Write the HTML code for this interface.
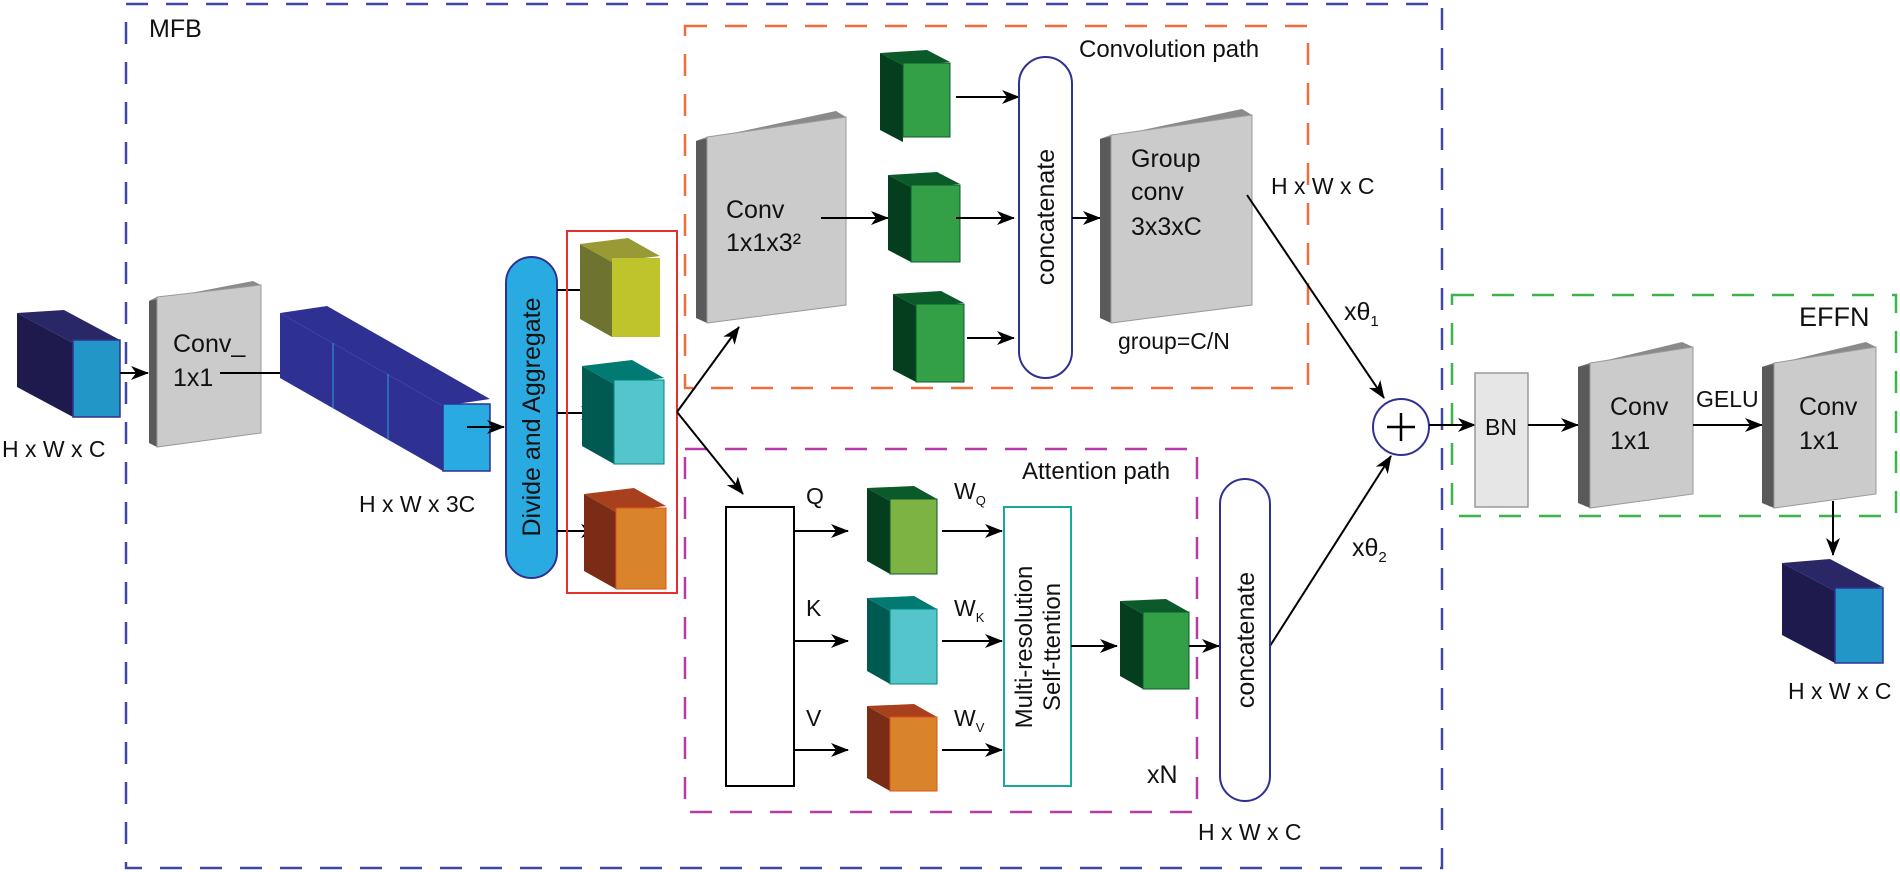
<!DOCTYPE html>
<html><head><meta charset="utf-8"><style>
html,body{margin:0;padding:0;background:#fff;}
svg{display:block;}
text{font-family:"Liberation Sans",sans-serif;fill:#111;}
</style></head><body>
<svg width="1900" height="872" viewBox="0 0 1900 872" xmlns="http://www.w3.org/2000/svg">
<defs>
<marker id="ah" viewBox="0 0 18 14" refX="17" refY="7" markerWidth="18" markerHeight="14" markerUnits="userSpaceOnUse" orient="auto">
<path d="M0,0 L18,7 L0,14 L5,7 Z" fill="#000"/>
</marker>
</defs>

<rect x="126" y="4" width="1316" height="864" fill="none" stroke="#3f48a8" stroke-width="2.5" stroke-dasharray="22,18"/>
<text x="149" y="37" font-size="25">MFB</text>
<rect x="685" y="26" width="623" height="362" fill="none" stroke="#f26b3a" stroke-width="2.5" stroke-dasharray="22,18"/>
<text x="1079" y="57" font-size="24">Convolution path</text>
<rect x="685" y="449" width="512" height="363" fill="none" stroke="#b63ba6" stroke-width="2.5" stroke-dasharray="22,18"/>
<text x="1022" y="479" font-size="24">Attention path</text>
<rect x="1452" y="295" width="444" height="221" fill="none" stroke="#3bb54a" stroke-width="2.5" stroke-dasharray="22,18"/>
<text x="1799" y="326" font-size="27">EFFN</text>

<polygon points="73,343 17,313 17,387 73,417" fill="#1e1a4e"/>
<polygon points="73,343 17,313 64,310 120,340" fill="#2a2766"/>
<rect x="73" y="340" width="47" height="77" fill="#2396c8" stroke="#2e3192" stroke-width="1.5"/>
<text x="2" y="457" font-size="23">H x W x C</text>
<line x1="120" y1="373" x2="148" y2="373" stroke="#000" stroke-width="2" marker-end="url(#ah)"/>

<polygon points="149,301 157,297 157,447 149,443" fill="#5a5a5a"/>
<polygon points="149,301 253,281 261,285 157,297" fill="#8a8a8a"/>
<polygon points="157,297 261,285 261,433 157,447" fill="#cbcbcb" stroke="#999" stroke-width="1"/>
<text x="173" y="352" font-size="25">Conv_</text>
<text x="173" y="386" font-size="25">1x1</text>
<line x1="220" y1="373" x2="331" y2="373" stroke="#000" stroke-width="2" marker-end="url(#ah)"/>

<polygon points="443,406 280,313 280,378 443,471" fill="#2e3192"/>
<polygon points="443,406 280,313 327,306 490,399" fill="#2e3192"/>
<line x1="333" y1="343" x2="333" y2="408" stroke="#2aa0d8" stroke-width="1"/>
<line x1="388" y1="374" x2="388" y2="440" stroke="#2aa0d8" stroke-width="1"/>
<rect x="443" y="404" width="47" height="67" fill="#29abe2" stroke="#2e3192" stroke-width="1.5"/>
<text x="359" y="512" font-size="23">H x W x 3C</text>
<line x1="467" y1="427" x2="504" y2="427" stroke="#000" stroke-width="2" marker-end="url(#ah)"/>

<rect x="506" y="257" width="51" height="321" rx="25.5" fill="#29abe2" stroke="#2e3192" stroke-width="2"/>
<text transform="translate(540,417) rotate(-90)" text-anchor="middle" font-size="25">Divide and Aggregate</text>
<line x1="557" y1="290" x2="598" y2="290" stroke="#000" stroke-width="2" marker-end="url(#ah)"/>
<line x1="557" y1="413" x2="598" y2="413" stroke="#000" stroke-width="2" marker-end="url(#ah)"/>
<line x1="557" y1="531" x2="598" y2="531" stroke="#000" stroke-width="2" marker-end="url(#ah)"/>

<rect x="567" y="231" width="110" height="362" fill="none" stroke="#e8302a" stroke-width="2"/>
<polygon points="612,262 580,244 580,319 612,337" fill="#6e7330"/>
<polygon points="612,262 580,244 628,238 660,256" fill="#999a35"/>
<rect x="612" y="258" width="48" height="79" fill="#bfc42d"/>
<polygon points="614,384 582,366 582,446 614,464" fill="#005a52"/>
<polygon points="614,384 582,366 632,360 664,378" fill="#007a72"/>
<rect x="614" y="380" width="50" height="84" fill="#55c5cc" stroke="#00857d" stroke-width="1"/>
<polygon points="616,512 584,494 584,571 616,589" fill="#7a2c16"/>
<polygon points="616,512 584,494 634,488 666,506" fill="#a8401e"/>
<rect x="616" y="508" width="50" height="81" fill="#d9832a" stroke="#e0501e" stroke-width="1"/>

<line x1="677" y1="412" x2="739" y2="327" stroke="#000" stroke-width="2" marker-end="url(#ah)"/>
<line x1="677" y1="412" x2="743" y2="494" stroke="#000" stroke-width="2" marker-end="url(#ah)"/>

<polygon points="696,141 707,137 707,323 696,318" fill="#5a5a5a"/>
<polygon points="696,141 836,111 846,117 707,137" fill="#8a8a8a"/>
<polygon points="707,137 846,117 846,305 707,323" fill="#cbcbcb" stroke="#999" stroke-width="1"/>
<text x="726" y="218" font-size="25">Conv</text>
<text x="726" y="251" font-size="25">1x1x3²</text>
<line x1="821" y1="218" x2="888" y2="218" stroke="#000" stroke-width="2" marker-end="url(#ah)"/>

<polygon points="903,65 880,53 880,130 903,142" fill="#053d1f"/>
<polygon points="903,65 880,53 927,50 950,62" fill="#0b5a2a"/>
<rect x="903" y="63" width="47" height="74" fill="#33a047" stroke="#0b5a2a" stroke-width="1"/>
<polygon points="911,187 888,175 888,250 911,262" fill="#053d1f"/>
<polygon points="911,187 888,175 937,172 960,184" fill="#0b5a2a"/>
<rect x="911" y="185" width="49" height="77" fill="#33a047" stroke="#0b5a2a" stroke-width="1"/>
<polygon points="916,306 893,294 893,370 916,382" fill="#053d1f"/>
<polygon points="916,306 893,294 941,291 964,303" fill="#0b5a2a"/>
<rect x="916" y="304" width="48" height="78" fill="#33a047" stroke="#0b5a2a" stroke-width="1"/>
<line x1="956" y1="97" x2="1019" y2="97" stroke="#000" stroke-width="2" marker-end="url(#ah)"/>
<line x1="956" y1="218" x2="1014" y2="218" stroke="#000" stroke-width="2" marker-end="url(#ah)"/>
<line x1="967" y1="338" x2="1014" y2="338" stroke="#000" stroke-width="2" marker-end="url(#ah)"/>

<rect x="1019" y="57" width="53" height="321" rx="26.5" fill="#fff" stroke="#2e3192" stroke-width="2"/>
<text transform="translate(1054,217) rotate(-90)" text-anchor="middle" font-size="25">concatenate</text>
<line x1="1072" y1="218" x2="1100" y2="218" stroke="#000" stroke-width="2" marker-end="url(#ah)"/>

<polygon points="1100,139 1111,135 1111,323 1100,318" fill="#5a5a5a"/>
<polygon points="1100,139 1242,109 1252,115 1111,135" fill="#8a8a8a"/>
<polygon points="1111,135 1252,115 1252,305 1111,323" fill="#cbcbcb" stroke="#999" stroke-width="1"/>
<text x="1131" y="167" font-size="25">Group</text>
<text x="1131" y="200" font-size="25">conv</text>
<text x="1131" y="235" font-size="25">3x3xC</text>
<text x="1118" y="349" font-size="23">group=C/N</text>
<text x="1271" y="194" font-size="23">H x W x C</text>

<line x1="1247" y1="195" x2="1384" y2="398" stroke="#000" stroke-width="2" marker-end="url(#ah)"/>
<text x="1344" y="320" font-size="25">xθ<tspan font-size="15" dy="6">1</tspan></text>
<line x1="1270" y1="646" x2="1391" y2="456" stroke="#000" stroke-width="2" marker-end="url(#ah)"/>
<text x="1352" y="556" font-size="25">xθ<tspan font-size="15" dy="6">2</tspan></text>

<circle cx="1401" cy="427" r="28" fill="#fff" stroke="#2e3192" stroke-width="2"/>
<line x1="1387" y1="427" x2="1415" y2="427" stroke="#000" stroke-width="2.5"/>
<line x1="1401" y1="413" x2="1401" y2="441" stroke="#000" stroke-width="2.5"/>
<line x1="1429" y1="425" x2="1475" y2="425" stroke="#000" stroke-width="2" marker-end="url(#ah)"/>

<rect x="726" y="507" width="68" height="279" fill="#fff" stroke="#000" stroke-width="2"/>
<text x="806" y="504" font-size="23">Q</text>
<text x="806" y="616" font-size="23">K</text>
<text x="806" y="726" font-size="23">V</text>
<line x1="794" y1="531" x2="848" y2="531" stroke="#000" stroke-width="2" marker-end="url(#ah)"/>
<line x1="794" y1="641" x2="848" y2="641" stroke="#000" stroke-width="2" marker-end="url(#ah)"/>
<line x1="794" y1="750" x2="848" y2="750" stroke="#000" stroke-width="2" marker-end="url(#ah)"/>

<polygon points="890,501 867,488 867,561 890,574" fill="#053d1f"/>
<polygon points="890,501 867,488 914,486 937,499" fill="#0b5a2a"/>
<rect x="890" y="499" width="47" height="75" fill="#7cb342" stroke="#0b5a2a" stroke-width="1"/>
<polygon points="890,611 867,598 867,671 890,684" fill="#005a52"/>
<polygon points="890,611 867,598 914,596 937,609" fill="#007a72"/>
<rect x="890" y="609" width="47" height="75" fill="#55c5cc" stroke="#00857d" stroke-width="1"/>
<polygon points="890,719 867,706 867,778 890,791" fill="#7a2c16"/>
<polygon points="890,719 867,706 914,704 937,717" fill="#a8401e"/>
<rect x="890" y="717" width="47" height="74" fill="#d9832a" stroke="#e0501e" stroke-width="1"/>

<text x="954" y="499" font-size="23">W<tspan font-size="13" dy="6">Q</tspan></text>
<text x="954" y="616" font-size="23">W<tspan font-size="13" dy="6">K</tspan></text>
<text x="954" y="726" font-size="23">W<tspan font-size="13" dy="6">V</tspan></text>
<line x1="942" y1="531" x2="1002" y2="531" stroke="#000" stroke-width="2" marker-end="url(#ah)"/>
<line x1="942" y1="641" x2="1002" y2="641" stroke="#000" stroke-width="2" marker-end="url(#ah)"/>
<line x1="942" y1="750" x2="1002" y2="750" stroke="#000" stroke-width="2" marker-end="url(#ah)"/>

<rect x="1004" y="507" width="67" height="279" fill="#fff" stroke="#1aa89b" stroke-width="2"/>
<text transform="translate(1032,647) rotate(-90)" text-anchor="middle" font-size="24">Multi-resolution</text>
<text transform="translate(1060,647) rotate(-90)" text-anchor="middle" font-size="24">Self-ttention</text>
<line x1="1071" y1="646" x2="1117" y2="646" stroke="#000" stroke-width="2" marker-end="url(#ah)"/>

<polygon points="1143,614 1120,601 1120,676 1143,689" fill="#053d1f"/>
<polygon points="1143,614 1120,601 1166,599 1189,612" fill="#0b5a2a"/>
<rect x="1143" y="612" width="46" height="77" fill="#33a047" stroke="#0b5a2a" stroke-width="1"/>
<line x1="1189" y1="646" x2="1219" y2="646" stroke="#000" stroke-width="2" marker-end="url(#ah)"/>

<text x="1147" y="783" font-size="25">xN</text>

<rect x="1220" y="479" width="50" height="322" rx="25" fill="#fff" stroke="#2e3192" stroke-width="2"/>
<text transform="translate(1254,640) rotate(-90)" text-anchor="middle" font-size="25">concatenate</text>
<text x="1198" y="840" font-size="23">H x W x C</text>

<rect x="1475" y="373" width="53" height="134" fill="#e6e6e6" stroke="#999" stroke-width="1.5"/>
<text x="1501" y="435" text-anchor="middle" font-size="23">BN</text>
<line x1="1528" y1="425" x2="1578" y2="425" stroke="#000" stroke-width="2" marker-end="url(#ah)"/>

<polygon points="1578,367 1590,363 1590,508 1578,503" fill="#5a5a5a"/>
<polygon points="1578,367 1682,342 1693,347 1590,363" fill="#8a8a8a"/>
<polygon points="1590,363 1693,347 1693,494 1590,508" fill="#cbcbcb" stroke="#999" stroke-width="1"/>
<text x="1610" y="415" font-size="25">Conv</text>
<text x="1610" y="449" font-size="25">1x1</text>
<text x="1696" y="407" font-size="23">GELU</text>
<line x1="1693" y1="425" x2="1762" y2="425" stroke="#000" stroke-width="2" marker-end="url(#ah)"/>

<polygon points="1762,367 1774,363 1774,508 1762,503" fill="#5a5a5a"/>
<polygon points="1762,367 1866,342 1876,347 1774,363" fill="#8a8a8a"/>
<polygon points="1774,363 1876,347 1876,494 1774,508" fill="#cbcbcb" stroke="#999" stroke-width="1"/>
<text x="1799" y="415" font-size="25">Conv</text>
<text x="1799" y="449" font-size="25">1x1</text>

<line x1="1833" y1="501" x2="1833" y2="555" stroke="#000" stroke-width="2" marker-end="url(#ah)"/>

<polygon points="1835,591 1782,563 1782,635 1835,663" fill="#1e1a4e"/>
<polygon points="1835,591 1782,563 1830,559 1883,587" fill="#2a2766"/>
<rect x="1835" y="588" width="48" height="75" fill="#2396c8" stroke="#2e3192" stroke-width="1.5"/>
<text x="1788" y="699" font-size="23">H x W x C</text>
</svg>
</body></html>
